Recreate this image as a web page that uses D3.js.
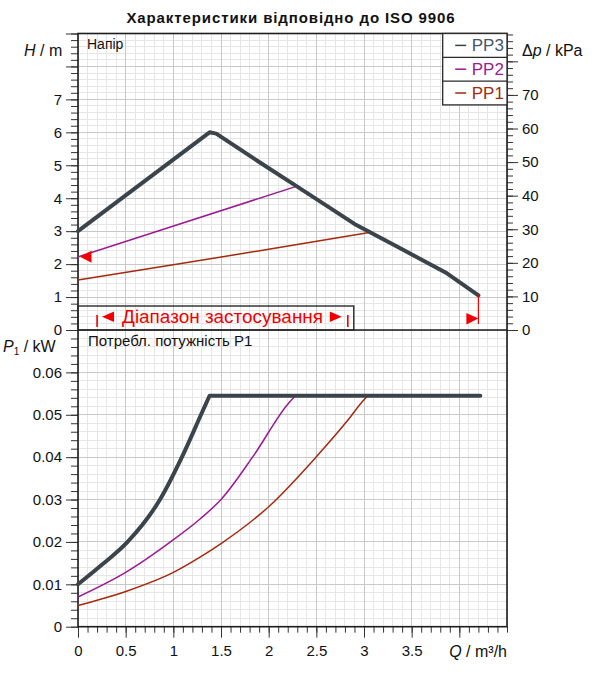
<!DOCTYPE html>
<html>
<head>
<meta charset="utf-8">
<script src="https://cdn.jsdelivr.net/npm/d3@7"></script>
<style>
  body { margin: 0; background: #fff; }
  text { font-family: "Liberation Sans", Arial, sans-serif; }
</style>
</head>
<body>
<div id="chart"></div>
<script>
// --- data ---
var seriesNames = ["PP3", "PP2", "PP1"];

// head curves, Q in m3/h, H in m
var pp3HeadQ = [0, 1.38, 1.45, 1.9, 2.3, 2.9, 3.4, 3.87, 4.2];
var pp3HeadH = [3.0, 6.0, 5.96, 5.1, 4.35, 3.22, 2.45, 1.72, 1.05];
var pp2HeadQ = [0, 2.29];
var pp2HeadH = [2.22, 4.36];
var pp1HeadQ = [0, 1, 2, 3.04];
var pp1HeadH = [1.52, 1.98, 2.45, 2.95];

// power curves, P1 in kW
var pp3PowerQ = [0, 0.25, 0.52, 0.86, 1.09, 1.29, 1.38, 4.22];
var pp3PowerP = [0.010, 0.0146, 0.020, 0.030, 0.040, 0.050, 0.0545, 0.0545];
var pp2PowerQ = [0, 0.5, 0.97, 1.28, 1.5, 1.84, 2.2, 2.28];
var pp2PowerP = [0.007, 0.0128, 0.020, 0.0254, 0.030, 0.0403, 0.0525, 0.0545];
var pp1PowerQ = [0, 0.5, 1.0, 1.28, 1.5, 2.0, 2.5, 2.84, 2.99, 3.04];
var pp1PowerP = [0.005, 0.0083, 0.0128, 0.0164, 0.0196, 0.0283, 0.0401, 0.049, 0.0533, 0.0545];

// application range markers
var rangeQ = [0.2, 2.83];
var maxFlowQ = 4.2;
var minHeadMark = 2.22;

// tick labels
var qTickLabels = ["0", "0.5", "1", "1.5", "2", "2.5", "3", "3.5"];
var hTickLabels = ["0", "1", "2", "3", "4", "5", "6", "7"];
var kpaTickLabels = ["0", "10", "20", "30", "40", "50", "60", "70"];
var pTickLabels = ["0", "0.01", "0.02", "0.03", "0.04", "0.05", "0.06"];

var titleText = "Характеристики відповідно до ISO 9906";
var rangeText = "Діапазон застосування";

// --- styling ---
var colors = { PP3: "#3c444b", PP2: "#9b1a93", PP1: "#a4290d" };
var textColors = { PP3: "#45566b", PP2: "#9b1a93", PP1: "#a4290d" };
var widths = { PP3: 4, PP2: 1.5, PP1: 1.5 };
var red = "#f00000";

var pLeft = 78, pRight = 507, pTop = 33.5, pMid = 330, pBottom = 626.7;

var x = d3.scaleLinear().domain([0, 4.5]).range([pLeft, pRight]);
var yH = d3.scaleLinear().domain([0, 9]).range([pMid, pTop]);
var yK = d3.scaleLinear().domain([0, 9 * 9.81]).range([pMid, pTop]);
var yP = d3.scaleLinear().domain([0, 0.07]).range([pBottom, pMid]);

var svg = d3.select("#chart").append("svg")
  .attr("width", 600)
  .attr("height", 675)
  .style("user-select", "none");

// title
svg.append("text")
  .attr("x", 291)
  .attr("y", 22.7)
  .attr("text-anchor", "middle")
  .style("font-size", "15px")
  .style("font-weight", "bold")
  .style("letter-spacing", "0.9px")
  .attr("fill", "#111")
  .text(titleText);

// --- grid ---
var grid = svg.append("g").attr("shape-rendering", "crispEdges");

function vGrid(values, color) {
  grid.selectAll(null).data(values).enter().append("line")
    .attr("x1", d => x(d)).attr("x2", d => x(d))
    .attr("y1", pTop).attr("y2", pBottom)
    .attr("stroke", color);
}
function hGrid(scale, values, color) {
  grid.selectAll(null).data(values).enter().append("line")
    .attr("x1", pLeft).attr("x2", pRight)
    .attr("y1", d => scale(d)).attr("y2", d => scale(d))
    .attr("stroke", color);
}

var minorLight = "#e6e6e6", majorGray = "#c8c8c8";
vGrid(d3.range(0, 4.501, 0.1), minorLight);
hGrid(yH, d3.range(0, 9.001, 0.2), minorLight);
hGrid(yP, d3.range(0, 0.07001, 0.002), minorLight);
vGrid(d3.range(0, 4.501, 0.5), majorGray);
hGrid(yH, d3.range(0, 9.001, 1), majorGray);
hGrid(yP, d3.range(0, 0.07001, 0.01), majorGray);

// --- axes ---
function styleAxis(g) {
  g.select(".domain").remove();
  g.selectAll("line").attr("stroke", "#333");
  g.selectAll("text")
    .style("font-family", "'Liberation Sans', Arial, sans-serif")
    .style("font-size", "15px")
    .attr("fill", "#111");
}

// left, head
svg.append("g").attr("transform", `translate(${pLeft},0)`)
  .call(d3.axisLeft(yH).tickValues(d3.range(0, 9.001, 0.2)).tickSize(7).tickFormat(""))
  .call(styleAxis);
svg.append("g").attr("transform", `translate(${pLeft},0)`)
  .call(d3.axisLeft(yH).tickValues(d3.range(0, 10, 1)).tickSize(12).tickPadding(4)
    .tickFormat((d, i) => hTickLabels[i] || ""))
  .call(styleAxis);

// right, pressure
svg.append("g").attr("transform", `translate(${pRight},0)`)
  .call(d3.axisRight(yK).tickValues(d3.range(0, 88.1, 2)).tickSize(6).tickFormat(""))
  .call(styleAxis);
svg.append("g").attr("transform", `translate(${pRight},0)`)
  .call(d3.axisRight(yK).tickValues(d3.range(0, 81, 10)).tickSize(11).tickPadding(4)
    .tickFormat((d, i) => kpaTickLabels[i] || ""))
  .call(styleAxis);

// left, power
svg.append("g").attr("transform", `translate(${pLeft},0)`)
  .call(d3.axisLeft(yP).tickValues(d3.range(0, 0.06901, 0.002)).tickSize(7).tickFormat(""))
  .call(styleAxis);
svg.append("g").attr("transform", `translate(${pLeft},0)`)
  .call(d3.axisLeft(yP).tickValues(d3.range(0, 0.06501, 0.01)).tickSize(12).tickPadding(4)
    .tickFormat((d, i) => pTickLabels[i] || ""))
  .call(styleAxis);

// bottom, flow
svg.append("g").attr("transform", `translate(0,${pBottom})`)
  .call(d3.axisBottom(x).tickValues(d3.range(0, 4.501, 0.1)).tickSize(6).tickFormat(""))
  .call(styleAxis);
svg.append("g").attr("transform", `translate(0,${pBottom})`)
  .call(d3.axisBottom(x).tickValues(d3.range(0, 4.001, 0.5)).tickSize(11).tickPadding(8)
    .tickFormat((d, i) => qTickLabels[i] || ""))
  .call(styleAxis);

// frame
svg.append("rect")
  .attr("x", pLeft).attr("y", pTop)
  .attr("width", pRight - pLeft).attr("height", pBottom - pTop)
  .attr("fill", "none").attr("stroke", "#1c1c1c").attr("stroke-width", 1.6);
svg.append("line")
  .attr("x1", pLeft).attr("x2", pRight).attr("y1", yH(0)).attr("y2", yH(0))
  .attr("stroke", "#1c1c1c").attr("stroke-width", 1.6);

// axis titles
function axisTitle(xp, yp, parts, anchor) {
  var t = svg.append("text").attr("x", xp).attr("y", yp)
    .attr("text-anchor", anchor || "start")
    .style("font-size", "16px").attr("fill", "#111");
  parts.forEach(function (p) {
    var s = t.append("tspan").text(p[0]);
    if (p[1] === "i") s.style("font-style", "italic");
    if (p[1] === "sub") s.style("font-size", "10px").attr("dy", 3);
    if (p[1] === "back") s.attr("dy", -3);
  });
}
axisTitle(24, 56, [["H", "i"], [" / m"]]);
axisTitle(522, 56, [["\u0394"], ["p", "i"], [" / kPa"]]);
axisTitle(3, 351.5, [["P", "i"], ["1", "sub"], [" / kW", "back"]]);
axisTitle(pRight, 657, [["Q", "i"], [" / m\u00b3/h"]], "end");

svg.append("text").attr("x", 87).attr("y", 48.5)
  .style("font-size", "14px").attr("fill", "#111").text("Напір");
svg.append("text").attr("x", 88).attr("y", 345.5)
  .style("font-size", "15px").attr("fill", "#111").text("Потребл. потужність P1");

// --- curves ---
var headLine = d3.line().x(d => x(d[0])).y(d => yH(d[1]));
var powerLine = d3.line().curve(d3.curveMonotoneX).x(d => x(d[0])).y(d => yP(d[1]));

// rising part smooth, flat part after the corner straight
function powerPath(pts, sharpCorner) {
  if (!sharpCorner) return powerLine(pts);
  var last = pts[pts.length - 1];
  return powerLine(pts.slice(0, -1)) + "L" + x(last[0]) + "," + yP(last[1]);
}

var heads = [
  { name: "PP1", pts: d3.zip(pp1HeadQ, pp1HeadH) },
  { name: "PP2", pts: d3.zip(pp2HeadQ, pp2HeadH) },
  { name: "PP3", pts: d3.zip(pp3HeadQ, pp3HeadH) }
];
var powers = [
  { name: "PP1", pts: d3.zip(pp1PowerQ, pp1PowerP), sharp: false },
  { name: "PP2", pts: d3.zip(pp2PowerQ, pp2PowerP), sharp: false },
  { name: "PP3", pts: d3.zip(pp3PowerQ, pp3PowerP), sharp: true }
];

svg.append("g").selectAll("path").data(heads).enter().append("path")
  .attr("fill", "none")
  .attr("stroke", d => colors[d.name])
  .attr("stroke-width", d => widths[d.name])
  .attr("stroke-linejoin", "round")
  .attr("stroke-linecap", "round")
  .attr("d", d => headLine(d.pts));

svg.append("g").selectAll("path").data(powers).enter().append("path")
  .attr("fill", "none")
  .attr("stroke", d => colors[d.name])
  .attr("stroke-width", d => widths[d.name])
  .attr("stroke-linejoin", "round")
  .attr("stroke-linecap", "round")
  .attr("d", d => powerPath(d.pts, d.sharp));

// --- application range ---
var rx0 = x(rangeQ[0]), rx1 = x(rangeQ[1]), base = yH(0);
svg.append("rect")
  .attr("x", x(0)).attr("y", base - 24)
  .attr("width", rx1 + 6 - x(0)).attr("height", 24)
  .attr("fill", "none").attr("stroke", "#2a2a2a").attr("stroke-width", 1.4);

var mark = svg.append("g").attr("fill", red).attr("stroke", red);
mark.append("line").attr("x1", rx0).attr("x2", rx0).attr("y1", base - 15).attr("y2", base - 3).attr("stroke-width", 1.6);
mark.append("path").attr("stroke", "none")
  .attr("d", `M${rx0 + 5},${base - 13.3} L${rx0 + 17},${base - 18.5} L${rx0 + 17},${base - 8.1} Z`);
mark.append("text").attr("x", rx0 + 25).attr("y", base - 6.7)
  .attr("stroke", "none")
  .attr("textLength", 201).attr("lengthAdjust", "spacingAndGlyphs")
  .style("font-size", "17.5px").text(rangeText);
mark.append("path").attr("stroke", "none")
  .attr("d", `M${rx1 - 6},${base - 13.3} L${rx1 - 18},${base - 18.5} L${rx1 - 18},${base - 8.1} Z`);
mark.append("line").attr("x1", rx1).attr("x2", rx1).attr("y1", base - 15).attr("y2", base - 3).attr("stroke-width", 1.6);

// end of range at max flow
var xe = x(maxFlowQ);
mark.append("line").attr("x1", xe).attr("x2", xe)
  .attr("y1", yH(pp3HeadH[pp3HeadH.length - 1])).attr("y2", base - 6).attr("stroke-width", 1.2);
mark.append("path").attr("stroke", "none")
  .attr("d", `M${xe},${base - 11.5} L${xe - 12},${base - 17} L${xe - 12},${base - 5.5} Z`);

// minimum head arrow on the H axis
var ym = yH(minHeadMark);
mark.append("path").attr("stroke", "none")
  .attr("d", `M${x(0) + 2},${ym} L${x(0) + 13.5},${ym - 6} L${x(0) + 13.5},${ym + 6} Z`);

// --- legend ---
var lgX = 442.7, lgW = pRight - lgX, rowH = 23.8;
var legend = svg.append("g");
legend.append("rect")
  .attr("x", lgX).attr("y", pTop).attr("width", lgW).attr("height", rowH * 3)
  .attr("fill", "#fff").attr("stroke", "#2a2a2a").attr("stroke-width", 1.3);
var rows = legend.selectAll("g").data(seriesNames).enter().append("g")
  .attr("transform", (d, i) => `translate(${lgX},${pTop + i * rowH})`);
rows.filter((d, i) => i > 0).append("line")
  .attr("x1", 0).attr("x2", lgW).attr("y1", 0).attr("y2", 0)
  .attr("stroke", "#2a2a2a").attr("stroke-width", 1.2);
rows.append("line")
  .attr("x1", 12.5).attr("x2", 23.5).attr("y1", rowH / 2).attr("y2", rowH / 2)
  .attr("stroke", d => colors[d]).attr("stroke-width", 1.5);
rows.append("text")
  .attr("x", 29).attr("y", rowH / 2 + 6)
  .style("font-size", "17px")
  .attr("fill", d => textColors[d])
  .text(d => d);
</script>
</body>
</html>
